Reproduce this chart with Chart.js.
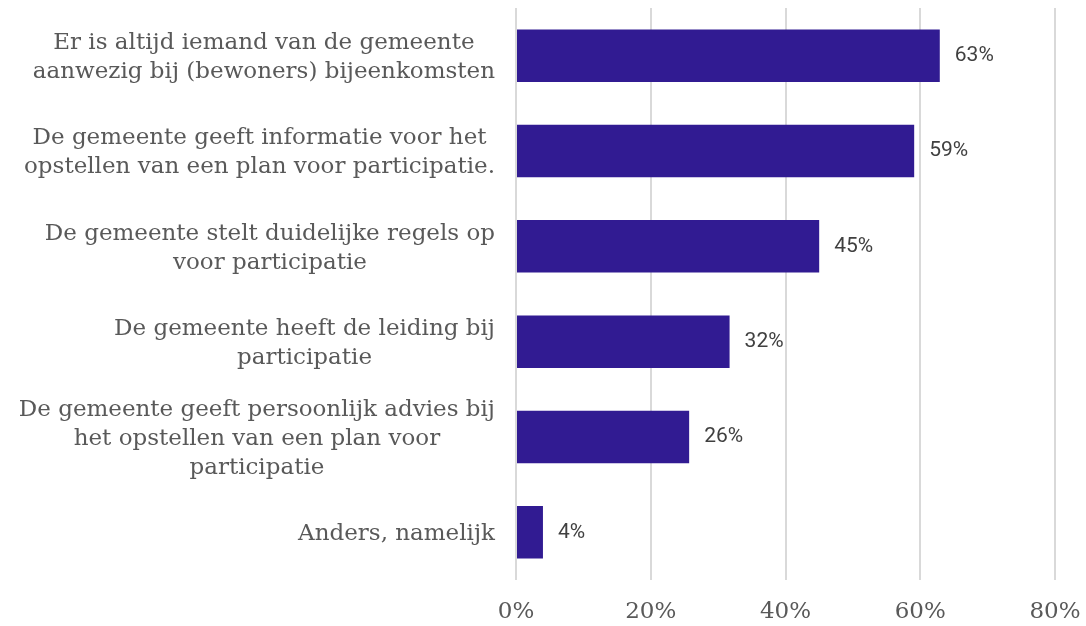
<!DOCTYPE html>
<html>
<head>
<meta charset="utf-8">
<script src="https://cdn.jsdelivr.net/npm/chart.js@4"></script>
<style>
  html, body { margin: 0; padding: 0; background: #fff; }
  #wrap { width: 1086px; height: 626px; }
</style>
</head>
<body>
<div id="wrap"><canvas id="barChart" width="1086" height="626"></canvas></div>
<script>
// categorieën (regels zoals in het origineel afgebroken)
const categories = [
    ['Er is altijd iemand van de gemeente', 'aanwezig bij (bewoners) bijeenkomsten'],
    ['De gemeente geeft informatie voor het', 'opstellen van een plan voor participatie.'],
    ['De gemeente stelt duidelijke regels op', 'voor participatie'],
    ['De gemeente heeft de leiding bij', 'participatie'],
    ['De gemeente geeft persoonlijk advies bij', 'het opstellen van een plan voor', 'participatie'],
    ['Anders, namelijk']
];
const percentages = [62.9, 59.1, 45.0, 31.7, 25.7, 4.0];
const xTicks = [0, 20, 40, 60, 80];

const labelFont = '23px "DejaVu Serif", serif';
const textColor = '#595959';

// linker labels zelf tekenen: regels gecentreerd, blok rechts uitgelijnd
const categoryLabels = {
    id: 'categoryLabels',
    afterDraw(chart) {
        const ctx = chart.ctx;
        const yScale = chart.scales.y;
        const right = chart.chartArea.left - 21;
        const lineH = 29;
        ctx.save();
        ctx.font = labelFont;
        ctx.fillStyle = textColor;
        ctx.textAlign = 'center';
        ctx.textBaseline = 'middle';
        categories.forEach((lines, i) => {
            const y = yScale.getPixelForValue(i) + 2;
            let maxW = 0;
            lines.forEach(l => { maxW = Math.max(maxW, ctx.measureText(l).width); });
            const cx = right - maxW / 2;
            const top = y - (lines.length - 1) * lineH / 2;
            lines.forEach((l, j) => ctx.fillText(l, cx, top + j * lineH));
        });
        ctx.restore();
    }
};

// waarde achter elke balk
const valueLabels = {
    id: 'valueLabels',
    afterDatasetsDraw(chart) {
        const ctx = chart.ctx;
        const meta = chart.getDatasetMeta(0);
        ctx.save();
        ctx.font = '21px Roboto, sans-serif';
        ctx.fillStyle = '#404040';
        ctx.textAlign = 'left';
        ctx.textBaseline = 'middle';
        meta.data.forEach((bar, i) => {
            ctx.fillText(Math.round(percentages[i]) + '%', bar.x + 15, bar.y);
        });
        ctx.restore();
    }
};

const ctxBar = document.getElementById('barChart').getContext('2d');
const barChart = new Chart(ctxBar, {
    type: 'bar',
    data: {
        labels: categories.map(c => c.join(' ')),
        datasets: [{
            data: percentages,
            backgroundColor: '#311b92',
            borderWidth: 0,
            barPercentage: 0.55,
            categoryPercentage: 1.0
        }]
    },
    options: {
        indexAxis: 'y',
        responsive: false,
        animation: false,
        layout: { padding: { left: 516, right: 31, top: 8, bottom: 0 } },
        plugins: {
            legend: { display: false },
            tooltip: { enabled: false }
        },
        scales: {
            x: {
                min: 0,
                max: 80,
                afterBuildTicks(axis) {
                    axis.ticks = xTicks.map(v => ({ value: v }));
                },
                afterFit(axis) {
                    axis.height = 46;
                    axis.paddingLeft = 0;
                    axis.paddingRight = 0;
                },
                grid: { color: '#d9d9d9', lineWidth: 2, drawTicks: false },
                border: { display: false },
                ticks: {
                    padding: 18,
                    color: textColor,
                    font: { family: '"DejaVu Serif", serif', size: 23 },
                    callback: v => v + '%'
                }
            },
            y: {
                display: false
            }
        }
    },
    plugins: [categoryLabels, valueLabels]
});
</script>
</body>
</html>
